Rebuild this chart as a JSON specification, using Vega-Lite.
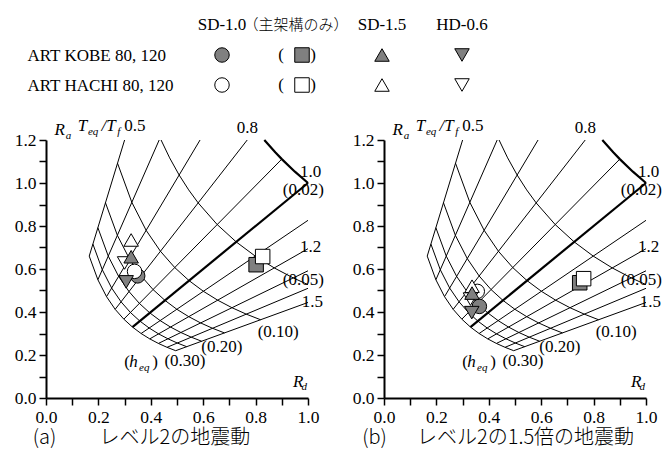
{
 "$schema": "https://vega.github.io/schema/vega-lite/v6.json",
 "padding": {"left": 14, "top": 10, "right": 0, "bottom": 8},
 "bounds": "flush",
 "spacing": 40,
 "config": {"view": {"stroke": null}},
 "datasets": {
  "grid": [
   {"c":"r0.5","Rd":0.165,"Ra":0.660},{"c":"r0.5","Rd":0.300,"Ra":1.200},
   {"c":"r0.6","Rd":0.198,"Ra":0.550},{"c":"r0.6","Rd":0.432,"Ra":1.200},
   {"c":"r0.7","Rd":0.231,"Ra":0.4714},{"c":"r0.7","Rd":0.588,"Ra":1.200},
   {"c":"r0.8","Rd":0.264,"Ra":0.4125},{"c":"r0.8","Rd":0.768,"Ra":1.200},
   {"c":"r0.9","Rd":0.297,"Ra":0.3667},{"c":"r0.9","Rd":0.900,"Ra":1.1111},
   {"c":"r1.0","Rd":0.330,"Ra":0.330},{"c":"r1.0","Rd":1.000,"Ra":1.000},
   {"c":"r1.1","Rd":0.363,"Ra":0.300},{"c":"r1.1","Rd":1.000,"Ra":0.8264},
   {"c":"r1.2","Rd":0.396,"Ra":0.275},{"c":"r1.2","Rd":1.000,"Ra":0.6944},
   {"c":"r1.3","Rd":0.429,"Ra":0.2538},{"c":"r1.3","Rd":1.000,"Ra":0.5917},
   {"c":"r1.4","Rd":0.462,"Ra":0.2357},{"c":"r1.4","Rd":1.000,"Ra":0.5102},
   {"c":"r1.5","Rd":0.495,"Ra":0.220},{"c":"r1.5","Rd":1.000,"Ra":0.4444},
   {"c":"h0.02","Rd":0.8333,"Ra":1.200},{"c":"h0.02","Rd":0.875,"Ra":1.1429},{"c":"h0.02","Rd":0.900,"Ra":1.1111},{"c":"h0.02","Rd":0.950,"Ra":1.0526},{"c":"h0.02","Rd":1.000,"Ra":1.000},
   {"c":"h0.05","Rd":0.4392,"Ra":1.200},{"c":"h0.05","Rd":0.4719,"Ra":1.1169},{"c":"h0.05","Rd":0.5082,"Ra":1.0371},{"c":"h0.05","Rd":0.5445,"Ra":0.968},{"c":"h0.05","Rd":0.5808,"Ra":0.9075},{"c":"h0.05","Rd":0.6534,"Ra":0.8067},{"c":"h0.05","Rd":0.726,"Ra":0.726},{"c":"h0.05","Rd":0.7986,"Ra":0.660},{"c":"h0.05","Rd":0.8712,"Ra":0.605},{"c":"h0.05","Rd":0.9438,"Ra":0.5585},{"c":"h0.05","Rd":1.000,"Ra":0.5272},
   {"c":"h0.10","Rd":0.273,"Ra":1.092},{"c":"h0.10","Rd":0.3276,"Ra":0.910},{"c":"h0.10","Rd":0.3822,"Ra":0.780},{"c":"h0.10","Rd":0.4368,"Ra":0.6825},{"c":"h0.10","Rd":0.4914,"Ra":0.6067},{"c":"h0.10","Rd":0.546,"Ra":0.546},{"c":"h0.10","Rd":0.6006,"Ra":0.4964},{"c":"h0.10","Rd":0.6552,"Ra":0.455},{"c":"h0.10","Rd":0.7098,"Ra":0.420},{"c":"h0.10","Rd":0.7644,"Ra":0.390},{"c":"h0.10","Rd":0.819,"Ra":0.364},
   {"c":"h0.15","Rd":0.227,"Ra":0.908},{"c":"h0.15","Rd":0.2724,"Ra":0.7567},{"c":"h0.15","Rd":0.3178,"Ra":0.6486},{"c":"h0.15","Rd":0.3632,"Ra":0.5675},{"c":"h0.15","Rd":0.4086,"Ra":0.5044},{"c":"h0.15","Rd":0.454,"Ra":0.454},{"c":"h0.15","Rd":0.4994,"Ra":0.4127},{"c":"h0.15","Rd":0.5448,"Ra":0.3783},{"c":"h0.15","Rd":0.5902,"Ra":0.3492},{"c":"h0.15","Rd":0.6356,"Ra":0.3243},{"c":"h0.15","Rd":0.681,"Ra":0.3027},
   {"c":"h0.20","Rd":0.198,"Ra":0.792},{"c":"h0.20","Rd":0.2376,"Ra":0.660},{"c":"h0.20","Rd":0.2772,"Ra":0.5657},{"c":"h0.20","Rd":0.3168,"Ra":0.495},{"c":"h0.20","Rd":0.3564,"Ra":0.440},{"c":"h0.20","Rd":0.396,"Ra":0.396},{"c":"h0.20","Rd":0.4356,"Ra":0.360},{"c":"h0.20","Rd":0.4752,"Ra":0.330},{"c":"h0.20","Rd":0.5148,"Ra":0.3046},{"c":"h0.20","Rd":0.5544,"Ra":0.2829},{"c":"h0.20","Rd":0.594,"Ra":0.264},
   {"c":"h0.25","Rd":0.179,"Ra":0.716},{"c":"h0.25","Rd":0.2148,"Ra":0.5967},{"c":"h0.25","Rd":0.2506,"Ra":0.5114},{"c":"h0.25","Rd":0.2864,"Ra":0.4475},{"c":"h0.25","Rd":0.3222,"Ra":0.3978},{"c":"h0.25","Rd":0.358,"Ra":0.358},{"c":"h0.25","Rd":0.3938,"Ra":0.3255},{"c":"h0.25","Rd":0.4296,"Ra":0.2983},{"c":"h0.25","Rd":0.4654,"Ra":0.2754},{"c":"h0.25","Rd":0.5012,"Ra":0.2557},{"c":"h0.25","Rd":0.537,"Ra":0.2387},
   {"c":"h0.30","Rd":0.165,"Ra":0.660},{"c":"h0.30","Rd":0.198,"Ra":0.550},{"c":"h0.30","Rd":0.231,"Ra":0.4714},{"c":"h0.30","Rd":0.264,"Ra":0.4125},{"c":"h0.30","Rd":0.297,"Ra":0.3667},{"c":"h0.30","Rd":0.330,"Ra":0.330},{"c":"h0.30","Rd":0.363,"Ra":0.300},{"c":"h0.30","Rd":0.396,"Ra":0.275},{"c":"h0.30","Rd":0.429,"Ra":0.2538},{"c":"h0.30","Rd":0.462,"Ra":0.2357},{"c":"h0.30","Rd":0.495,"Ra":0.220}
  ],
  "lbl": [
   {"t":"R","Rd":0.032,"Ra":1.221,"k":"var"},
   {"t":"a","Rd":0.075,"Ra":1.205,"k":"sub"},
   {"t":"T","Rd":0.121,"Ra":1.240,"k":"var"},
   {"t":"eq","Rd":0.160,"Ra":1.225,"k":"sub"},
   {"t":"/T","Rd":0.212,"Ra":1.240,"k":"var"},
   {"t":"f","Rd":0.272,"Ra":1.225,"k":"sub"},
   {"t":"0.5","Rd":0.299,"Ra":1.240,"k":"num"},
   {"t":"0.8","Rd":0.728,"Ra":1.234,"k":"num"},
   {"t":"1.0","Rd":0.969,"Ra":1.030,"k":"num"},
   {"t":"(0.02)","Rd":0.904,"Ra":0.946,"k":"num"},
   {"t":"1.2","Rd":0.969,"Ra":0.680,"k":"num"},
   {"t":"(0.05)","Rd":0.904,"Ra":0.527,"k":"num"},
   {"t":"1.5","Rd":0.976,"Ra":0.425,"k":"num"},
   {"t":"(0.10)","Rd":0.808,"Ra":0.285,"k":"num"},
   {"t":"(0.20)","Rd":0.593,"Ra":0.216,"k":"num"},
   {"t":"(0.30)","Rd":0.452,"Ra":0.147,"k":"num"},
   {"t":"(","Rd":0.299,"Ra":0.142,"k":"num"},
   {"t":"h","Rd":0.318,"Ra":0.142,"k":"var"},
   {"t":"eq","Rd":0.355,"Ra":0.124,"k":"sub"},
   {"t":")","Rd":0.406,"Ra":0.142,"k":"num"},
   {"t":"R","Rd":0.943,"Ra":0.051,"k":"var"},
   {"t":"d","Rd":0.975,"Ra":0.037,"k":"sub"}
  ],
  "capA": [{"t":"(a)","Rd":-0.051,"Ra":-0.212},{"t":"レベル2の地震動","Rd":0.204,"Ra":-0.212}],
  "capB": [{"t":"(b)","Rd":-0.083,"Ra":-0.212},{"t":"レベル2の1.5倍の地震動","Rd":0.126,"Ra":-0.212}],
  "pts": [
   {"panel":"a","series":"ART KOBE 80, 120","type":"SD-1.0","Rd":0.350,"Ra":0.568},
   {"panel":"a","series":"ART HACHI 80, 120","type":"SD-1.0","Rd":0.338,"Ra":0.589},
   {"panel":"a","series":"ART KOBE 80, 120","type":"主架構のみ","Rd":0.802,"Ra":0.620},
   {"panel":"a","series":"ART HACHI 80, 120","type":"主架構のみ","Rd":0.827,"Ra":0.658},
   {"panel":"a","series":"ART HACHI 80, 120","type":"HD-0.6","Rd":0.300,"Ra":0.628},
   {"panel":"a","series":"ART KOBE 80, 120","type":"HD-0.6","Rd":0.306,"Ra":0.540},
   {"panel":"a","series":"ART HACHI 80, 120","type":"SD-1.5","Rd":0.325,"Ra":0.735},
   {"panel":"a","series":"ART KOBE 80, 120","type":"SD-1.5","Rd":0.325,"Ra":0.657},
   {"panel":"b","series":"ART HACHI 80, 120","type":"SD-1.0","Rd":0.356,"Ra":0.496},
   {"panel":"b","series":"ART KOBE 80, 120","type":"SD-1.0","Rd":0.364,"Ra":0.426},
   {"panel":"b","series":"ART KOBE 80, 120","type":"主架構のみ","Rd":0.747,"Ra":0.536},
   {"panel":"b","series":"ART HACHI 80, 120","type":"主架構のみ","Rd":0.762,"Ra":0.555},
   {"panel":"b","series":"ART HACHI 80, 120","type":"HD-0.6","Rd":0.330,"Ra":0.460},
   {"panel":"b","series":"ART KOBE 80, 120","type":"HD-0.6","Rd":0.335,"Ra":0.397},
   {"panel":"b","series":"ART HACHI 80, 120","type":"SD-1.5","Rd":0.336,"Ra":0.520},
   {"panel":"b","series":"ART KOBE 80, 120","type":"SD-1.5","Rd":0.336,"Ra":0.488}
  ],
  "legSym": [
   {"series":"ART KOBE 80, 120","type":"SD-1.0"},{"series":"ART KOBE 80, 120","type":"主架構のみ"},{"series":"ART KOBE 80, 120","type":"SD-1.5"},{"series":"ART KOBE 80, 120","type":"HD-0.6"},
   {"series":"ART HACHI 80, 120","type":"SD-1.0"},{"series":"ART HACHI 80, 120","type":"主架構のみ"},{"series":"ART HACHI 80, 120","type":"SD-1.5"},{"series":"ART HACHI 80, 120","type":"HD-0.6"}
  ],
  "legHead": [{"type":"SD-1.0","series":"header","t":"SD-1.0"},{"type":"SD-1.5","series":"header","t":"SD-1.5"},{"type":"HD-0.6","series":"header","t":"HD-0.6"}],
  "legHeadJ": [{"type":"主架構のみ","series":"header","t":"（主架構のみ）"}],
  "legPar": [{"type":"主架構のみ","series":"ART KOBE 80, 120"},{"type":"主架構のみ","series":"ART HACHI 80, 120"}]
 },
 "vconcat": [
  {
   "width": 440, "height": 90,
   "encoding": {
    "x": {"field":"type","type":"nominal","scale":{"type":"point","domain":["SD-1.0","主架構のみ","SD-1.5","HD-0.6"],"range":[176,416],"padding":0},"axis":null},
    "y": {"field":"series","type":"nominal","scale":{"type":"point","domain":["header","ART KOBE 80, 120","ART HACHI 80, 120"],"padding":0.5},
          "axis":{"title":null,"domain":false,"ticks":false,"tickSize":0,"labelAlign":"left","labelPadding":19,"labelBaseline":"middle","labelFont":"Liberation Serif","labelFontSize":17,"labelColor":"black","labelExpr":"datum.value=='header' ? '' : datum.value"}}
   },
   "layer": [
    {"data":{"name":"legHead"},"mark":{"type":"text","font":"Liberation Serif","fontSize":17,"align":"center","baseline":"middle","color":"black"},"encoding":{"text":{"field":"t"}}},
    {"data":{"name":"legHeadJ"},"mark":{"type":"text","font":"Noto Sans CJK JP","fontSize":15,"fontWeight":300,"align":"center","baseline":"middle","color":"black","dx":-6},"encoding":{"text":{"field":"t"}}},
    {"data":{"name":"legPar"},"mark":{"type":"text","font":"Liberation Serif","fontSize":17,"align":"center","baseline":"middle","color":"black","dx":-21,"text":"("}},
    {"data":{"name":"legPar"},"mark":{"type":"text","font":"Liberation Serif","fontSize":17,"align":"center","baseline":"middle","color":"black","dx":11,"text":")"}},
    {"data":{"name":"legSym"},"mark":{"type":"point","filled":true,"stroke":"black","strokeWidth":1,"opacity":1,"size":210},
     "encoding":{
      "shape":{"field":"type","type":"nominal","scale":{"domain":["SD-1.0","主架構のみ","SD-1.5","HD-0.6"],"range":["circle","square","triangle-up","triangle-down"]},"legend":null},
      "fill":{"field":"series","type":"nominal","scale":{"domain":["ART KOBE 80, 120","ART HACHI 80, 120"],"range":["#808080","#ffffff"]},"legend":null}
     }}
   ]
  },
  {
   "bounds": "flush",
   "spacing": 76,
   "hconcat": [
    {
     "width": 262, "height": 258,
     "encoding": {
      "x": {"field":"Rd","type":"quantitative","scale":{"domain":[0,1],"nice":false,"zero":false},
            "axis":{"title":null,"values":[0,0.1,0.2,0.3,0.4,0.5,0.6,0.7,0.8,0.9,1],"format":".1f","labelExpr":"round(datum.value*10)%2==0 ? datum.label : ''","grid":false,"domainColor":"black","domainWidth":2,"tickColor":"black","tickWidth":1.5,"tickSize":7,"labelColor":"black","labelFont":"Liberation Serif","labelFontSize":17.5,"labelPadding":3,"labelFlush":false,"labelOverlap":false,"labelBound":false,
                    "encode":{"ticks":{"update":{"y2":{"signal":"round(datum.value*10)%2==0 ? 7 : 4"}}}}}},
      "y": {"field":"Ra","type":"quantitative","scale":{"domain":[0,1.2],"nice":false,"zero":false},
            "axis":{"title":null,"values":[0,0.1,0.2,0.3,0.4,0.5,0.6,0.7,0.8,0.9,1,1.1,1.2],"format":".1f","labelExpr":"round(datum.value*10)%2==0 ? datum.label : ''","grid":false,"domainColor":"black","domainWidth":2,"tickColor":"black","tickWidth":1.5,"tickSize":7,"labelColor":"black","labelFont":"Liberation Serif","labelFontSize":17.5,"labelPadding":3,"labelFlush":false,"labelOverlap":false,"labelBound":false,
                    "encode":{"ticks":{"update":{"x2":{"signal":"round(datum.value*10)%2==0 ? -7 : -4"}}}}}}
     },
     "layer": [
      {"data":{"name":"grid"},"transform":[{"filter":"datum.c!='r1.0' && datum.c!='h0.02'"}],"mark":{"type":"line","stroke":"black","strokeWidth":1},"encoding":{"detail":{"field":"c","type":"nominal"},"order":{"field":"Rd","type":"quantitative"}}},
      {"data":{"name":"grid"},"transform":[{"filter":"datum.c=='r1.0' || datum.c=='h0.02'"}],"mark":{"type":"line","stroke":"black","strokeWidth":2.2},"encoding":{"detail":{"field":"c","type":"nominal"},"order":{"field":"Rd","type":"quantitative"}}},
      {"data":{"name":"pts"},"transform":[{"filter":"datum.panel=='a'"}],"mark":{"type":"point","filled":true,"stroke":"black","strokeWidth":1,"opacity":1,"size":210},
       "encoding":{"shape":{"field":"type","type":"nominal","legend":null},"fill":{"field":"series","type":"nominal","legend":null}}},
      {"data":{"name":"lbl"},"transform":[{"filter":"datum.k=='num'"}],"mark":{"type":"text","align":"left","baseline":"alphabetic","font":"Liberation Serif","fontSize":17,"color":"black"},"encoding":{"text":{"field":"t"}}},
      {"data":{"name":"lbl"},"transform":[{"filter":"datum.k=='var'"}],"mark":{"type":"text","align":"left","baseline":"alphabetic","font":"Liberation Serif","fontSize":17,"fontStyle":"italic","color":"black"},"encoding":{"text":{"field":"t"}}},
      {"data":{"name":"lbl"},"transform":[{"filter":"datum.k=='sub'"}],"mark":{"type":"text","align":"left","baseline":"alphabetic","font":"Liberation Serif","fontSize":11,"fontStyle":"italic","color":"black"},"encoding":{"text":{"field":"t"}}},
      {"data":{"name":"capA"},"mark":{"type":"text","align":"left","baseline":"alphabetic","font":"Noto Sans CJK JP","fontSize":20,"fontWeight":300,"color":"black"},"encoding":{"text":{"field":"t"}}}
     ]
    },
    {
     "width": 262, "height": 258,
     "encoding": {
      "x": {"field":"Rd","type":"quantitative","scale":{"domain":[0,1],"nice":false,"zero":false},
            "axis":{"title":null,"values":[0,0.1,0.2,0.3,0.4,0.5,0.6,0.7,0.8,0.9,1],"format":".1f","labelExpr":"round(datum.value*10)%2==0 ? datum.label : ''","grid":false,"domainColor":"black","domainWidth":2,"tickColor":"black","tickWidth":1.5,"tickSize":7,"labelColor":"black","labelFont":"Liberation Serif","labelFontSize":17.5,"labelPadding":3,"labelFlush":false,"labelOverlap":false,"labelBound":false,
                    "encode":{"ticks":{"update":{"y2":{"signal":"round(datum.value*10)%2==0 ? 7 : 4"}}}}}},
      "y": {"field":"Ra","type":"quantitative","scale":{"domain":[0,1.2],"nice":false,"zero":false},
            "axis":{"title":null,"values":[0,0.1,0.2,0.3,0.4,0.5,0.6,0.7,0.8,0.9,1,1.1,1.2],"format":".1f","labelExpr":"round(datum.value*10)%2==0 ? datum.label : ''","grid":false,"domainColor":"black","domainWidth":2,"tickColor":"black","tickWidth":1.5,"tickSize":7,"labelColor":"black","labelFont":"Liberation Serif","labelFontSize":17.5,"labelPadding":3,"labelFlush":false,"labelOverlap":false,"labelBound":false,
                    "encode":{"ticks":{"update":{"x2":{"signal":"round(datum.value*10)%2==0 ? -7 : -4"}}}}}}
     },
     "layer": [
      {"data":{"name":"grid"},"transform":[{"filter":"datum.c!='r1.0' && datum.c!='h0.02'"}],"mark":{"type":"line","stroke":"black","strokeWidth":1},"encoding":{"detail":{"field":"c","type":"nominal"},"order":{"field":"Rd","type":"quantitative"}}},
      {"data":{"name":"grid"},"transform":[{"filter":"datum.c=='r1.0' || datum.c=='h0.02'"}],"mark":{"type":"line","stroke":"black","strokeWidth":2.2},"encoding":{"detail":{"field":"c","type":"nominal"},"order":{"field":"Rd","type":"quantitative"}}},
      {"data":{"name":"pts"},"transform":[{"filter":"datum.panel=='b'"}],"mark":{"type":"point","filled":true,"stroke":"black","strokeWidth":1,"opacity":1,"size":210},
       "encoding":{"shape":{"field":"type","type":"nominal","legend":null},"fill":{"field":"series","type":"nominal","legend":null}}},
      {"data":{"name":"lbl"},"transform":[{"filter":"datum.k=='num'"}],"mark":{"type":"text","align":"left","baseline":"alphabetic","font":"Liberation Serif","fontSize":17,"color":"black"},"encoding":{"text":{"field":"t"}}},
      {"data":{"name":"lbl"},"transform":[{"filter":"datum.k=='var'"}],"mark":{"type":"text","align":"left","baseline":"alphabetic","font":"Liberation Serif","fontSize":17,"fontStyle":"italic","color":"black"},"encoding":{"text":{"field":"t"}}},
      {"data":{"name":"lbl"},"transform":[{"filter":"datum.k=='sub'"}],"mark":{"type":"text","align":"left","baseline":"alphabetic","font":"Liberation Serif","fontSize":11,"fontStyle":"italic","color":"black"},"encoding":{"text":{"field":"t"}}},
      {"data":{"name":"capB"},"mark":{"type":"text","align":"left","baseline":"alphabetic","font":"Noto Sans CJK JP","fontSize":20,"fontWeight":300,"color":"black"},"encoding":{"text":{"field":"t"}}}
     ]
    }
   ]
  }
 ]
}
